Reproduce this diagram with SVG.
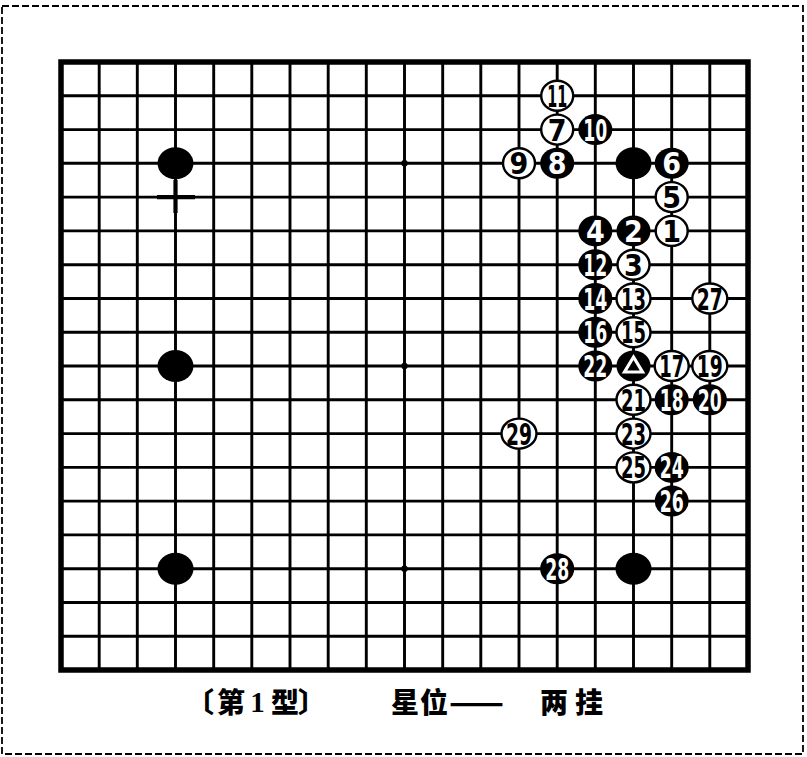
<svg xmlns="http://www.w3.org/2000/svg" width="807" height="757" viewBox="0 0 807 757">
<style>
.frame{fill:none;stroke:#000;stroke-width:1.8;stroke-dasharray:7 3}
.grid{fill:none;stroke:#000;stroke-width:2.9}
.border{fill:none;stroke:#000;stroke-width:5.5}
.star{fill:#000}
.b{fill:#000}
.w{fill:#fff;stroke:#000;stroke-width:2.4}
.n{font-family:"DejaVu Sans Condensed","DejaVu Sans",sans-serif;font-weight:bold;font-size:30px;text-anchor:middle}
.nb{fill:#fff}
.nw{fill:#000}
.cap{font-family:"Noto Sans CJK SC","Noto Sans CJK JP",sans-serif;font-weight:900;font-size:28px;fill:#000}
</style>
<rect x="0" y="0" width="807" height="757" fill="#fff"/>
<rect class="frame" x="2" y="6" width="801" height="748"/>
<g id="connectors">
<path class="grid" d="M99.2 62V670M137.3 62V670M175.5 62V670M213.7 62V670M251.8 62V670M290 62V670M328.2 62V670M366.3 62V670M404.5 62V670M442.7 62V670M480.8 62V670M519 62V670M557.2 62V670M595.3 62V670M633.5 62V670M671.7 62V670M709.8 62V670M61 95.8H748M61 129.6H748M61 163.3H748M61 197.1H748M61 230.9H748M61 264.7H748M61 298.5H748M61 332.2H748M61 366H748M61 399.8H748M61 433.6H748M61 467.4H748M61 501.1H748M61 534.9H748M61 568.7H748M61 602.5H748M61 636.3H748"/>
<path d="M157 197.1H195M175.5 180V213" stroke="#000" stroke-width="4.2" fill="none"/>
<rect class="border" x="61" y="62" width="687" height="608"/>
<circle class="star" cx="404.5" cy="163.3" r="3.2"/>
<circle class="star" cx="404.5" cy="366" r="3.2"/>
<circle class="star" cx="404.5" cy="568.7" r="3.2"/>
</g>
<g id="b-a"><ellipse class="b" cx="175.5" cy="163.3" rx="18" ry="16"/></g>
<g id="b-b"><ellipse class="b" cx="175.5" cy="366" rx="18" ry="16"/></g>
<g id="b-c"><ellipse class="b" cx="175.5" cy="568.7" rx="18" ry="16"/></g>
<g id="b-d"><ellipse class="b" cx="633.5" cy="163.3" rx="18" ry="16"/></g>
<g id="b-e"><ellipse class="b" cx="633.5" cy="568.7" rx="18" ry="16"/></g>
<g id="b-tri"><ellipse class="b" cx="633.5" cy="366" rx="17" ry="15.5"/><polygon points="633.5,357 642.5,372 624.5,372" fill="none" stroke="#fff" stroke-width="3.2"/></g>
<g id="m1"><ellipse class="w" cx="671.7" cy="230.9" rx="16" ry="15"/><text class="n nw" x="671.7" y="241.9">1</text></g>
<g id="m2"><ellipse class="b" cx="633.5" cy="230.9" rx="17" ry="15.5"/><text class="n nb" x="633.5" y="241.9">2</text></g>
<g id="m3"><ellipse class="w" cx="633.5" cy="264.7" rx="16" ry="15"/><text class="n nw" x="633.5" y="275.7">3</text></g>
<g id="m4"><ellipse class="b" cx="595.3" cy="230.9" rx="17" ry="15.5"/><text class="n nb" x="595.3" y="241.9">4</text></g>
<g id="m5"><ellipse class="w" cx="671.7" cy="197.1" rx="16" ry="15"/><text class="n nw" x="671.7" y="208.1">5</text></g>
<g id="m6"><ellipse class="b" cx="671.7" cy="163.3" rx="17" ry="15.5"/><text class="n nb" x="671.7" y="174.3">6</text></g>
<g id="m7"><ellipse class="w" cx="557.2" cy="129.6" rx="16" ry="15"/><text class="n nw" x="557.2" y="140.6">7</text></g>
<g id="m8"><ellipse class="b" cx="557.2" cy="163.3" rx="17" ry="15.5"/><text class="n nb" x="557.2" y="174.3">8</text></g>
<g id="m9"><ellipse class="w" cx="519" cy="163.3" rx="16" ry="15"/><text class="n nw" x="519" y="174.3">9</text></g>
<g id="m10"><ellipse class="b" cx="595.3" cy="129.6" rx="17" ry="15.5"/><text class="n nb" x="595.3" y="140.6" textLength="24" lengthAdjust="spacingAndGlyphs">10</text></g>
<g id="m11"><ellipse class="w" cx="557.2" cy="95.8" rx="16" ry="15"/><text class="n nw" x="557.2" y="106.8" textLength="20" lengthAdjust="spacingAndGlyphs">11</text></g>
<g id="m12"><ellipse class="b" cx="595.3" cy="264.7" rx="17" ry="15.5"/><text class="n nb" x="595.3" y="275.7" textLength="24" lengthAdjust="spacingAndGlyphs">12</text></g>
<g id="m13"><ellipse class="w" cx="633.5" cy="298.5" rx="17" ry="15"/><text class="n nw" x="633.5" y="309.5" textLength="25" lengthAdjust="spacingAndGlyphs">13</text></g>
<g id="m14"><ellipse class="b" cx="595.3" cy="298.5" rx="17" ry="15.5"/><text class="n nb" x="595.3" y="309.5" textLength="24" lengthAdjust="spacingAndGlyphs">14</text></g>
<g id="m15"><ellipse class="w" cx="633.5" cy="332.2" rx="17" ry="15"/><text class="n nw" x="633.5" y="343.2" textLength="25" lengthAdjust="spacingAndGlyphs">15</text></g>
<g id="m16"><ellipse class="b" cx="595.3" cy="332.2" rx="17" ry="15.5"/><text class="n nb" x="595.3" y="343.2" textLength="24" lengthAdjust="spacingAndGlyphs">16</text></g>
<g id="m17"><ellipse class="w" cx="671.7" cy="366" rx="17" ry="15"/><text class="n nw" x="671.7" y="377" textLength="25" lengthAdjust="spacingAndGlyphs">17</text></g>
<g id="m18"><ellipse class="b" cx="671.7" cy="399.8" rx="17" ry="15.5"/><text class="n nb" x="671.7" y="410.8" textLength="24" lengthAdjust="spacingAndGlyphs">18</text></g>
<g id="m19"><ellipse class="w" cx="709.8" cy="366" rx="17.5" ry="15"/><text class="n nw" x="709.8" y="377" textLength="26" lengthAdjust="spacingAndGlyphs">19</text></g>
<g id="m20"><ellipse class="b" cx="709.8" cy="399.8" rx="17" ry="15.5"/><text class="n nb" x="709.8" y="410.8" textLength="24" lengthAdjust="spacingAndGlyphs">20</text></g>
<g id="m21"><ellipse class="w" cx="633.5" cy="399.8" rx="17" ry="15"/><text class="n nw" x="633.5" y="410.8" textLength="25" lengthAdjust="spacingAndGlyphs">21</text></g>
<g id="m22"><ellipse class="b" cx="595.3" cy="366" rx="17" ry="15.5"/><text class="n nb" x="595.3" y="377" textLength="24" lengthAdjust="spacingAndGlyphs">22</text></g>
<g id="m23"><ellipse class="w" cx="633.5" cy="433.6" rx="17" ry="15"/><text class="n nw" x="633.5" y="444.6" textLength="25" lengthAdjust="spacingAndGlyphs">23</text></g>
<g id="m24"><ellipse class="b" cx="671.7" cy="467.4" rx="17" ry="15.5"/><text class="n nb" x="671.7" y="478.4" textLength="24" lengthAdjust="spacingAndGlyphs">24</text></g>
<g id="m25"><ellipse class="w" cx="633.5" cy="467.4" rx="17" ry="15"/><text class="n nw" x="633.5" y="478.4" textLength="25" lengthAdjust="spacingAndGlyphs">25</text></g>
<g id="m26"><ellipse class="b" cx="671.7" cy="501.1" rx="17" ry="15.5"/><text class="n nb" x="671.7" y="512.1" textLength="24" lengthAdjust="spacingAndGlyphs">26</text></g>
<g id="m27"><ellipse class="w" cx="709.8" cy="298.5" rx="17.5" ry="15"/><text class="n nw" x="709.8" y="309.5" textLength="26" lengthAdjust="spacingAndGlyphs">27</text></g>
<g id="m28"><ellipse class="b" cx="557.2" cy="568.7" rx="17" ry="15.5"/><text class="n nb" x="557.2" y="579.7" textLength="24" lengthAdjust="spacingAndGlyphs">28</text></g>
<g id="m29"><ellipse class="w" cx="519" cy="433.6" rx="17.5" ry="15"/><text class="n nw" x="519" y="444.6" textLength="26" lengthAdjust="spacingAndGlyphs">29</text></g>
<g id="caption">
<text class="cap" x="186" y="713">〔</text>
<text class="cap" x="231" y="713" text-anchor="middle">第</text>
<text x="257.5" y="712" text-anchor="middle" font-family="Liberation Serif,serif" font-weight="bold" font-size="29">1</text>
<text class="cap" x="285" y="713" text-anchor="middle">型</text>
<text class="cap" x="298" y="713">〕</text>
<text class="cap" x="405" y="713" text-anchor="middle">星</text>
<text class="cap" x="434" y="713" text-anchor="middle">位</text>
<text class="cap" x="449" y="713" font-weight="normal" textLength="55" lengthAdjust="spacingAndGlyphs">——</text>
<text class="cap" x="554" y="713" text-anchor="middle">两</text>
<text class="cap" x="589" y="713" text-anchor="middle">挂</text>
</g>
</svg>
